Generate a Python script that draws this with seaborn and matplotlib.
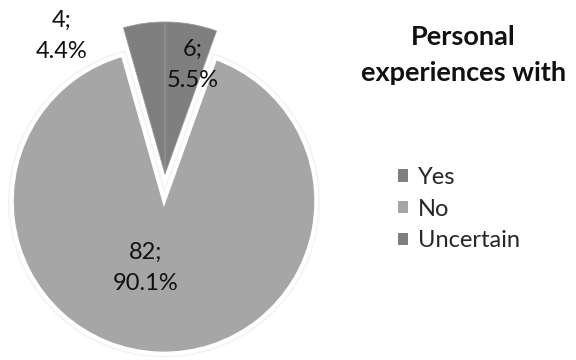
import matplotlib
matplotlib.use("Agg")
import matplotlib.pyplot as plt
import matplotlib.patheffects as pe
from matplotlib.patches import Patch
import seaborn as sns

# Survey answers
categories = ["Yes", "No", "Uncertain"]
counts = [6, 82, 4]
percents = [5.5, 90.1, 4.4]
title_text = "Personal\nexperiences with"

sns.set_theme(style="white")
plt.rcParams["font.family"] = ["Lato", "DejaVu Sans"]

colors = ["#7f7f7f", "#a6a6a6", "#7f7f7f"]

fig = plt.figure(figsize=(5.76, 3.6), dpi=100)
ax = fig.add_axes([0, 0, 1, 1])

wedges, _ = ax.pie(
    percents,
    colors=colors,
    startangle=90,
    counterclock=False,
    explode=[0, 0.18, 0],
    radius=1.0,
    wedgeprops=dict(edgecolor="#9a9a9a", linewidth=0.6),
)
# soft white rim along the separated slice
wedges[1].set_edgecolor("white")
wedges[1].set_linewidth(2.5)
wedges[1].set_path_effects([
    pe.Stroke(linewidth=6, foreground="#f4f4f4"),
    pe.Stroke(linewidth=3.5, foreground="white"),
    pe.Normal(),
])

ax.set_xlim(-1.0855, 2.704)
ax.set_ylim(-1.2237, 1.1447)
ax.axis("off")

label_pos = {"Yes": (0.18, 0.72), "No": (-0.13, -0.62), "Uncertain": (-0.68, 0.91)}
for cat, n, p in zip(categories, counts, percents):
    x, y = label_pos[cat]
    ax.text(x, y, f"{n};\n{p:.1f}%", ha="center", va="center",
            fontsize=17, color="#111111", linespacing=1.6)

fig.text(0.804, 0.847, title_text, ha="center", va="center",
         fontsize=19.5, fontweight="bold", color="#111111", linespacing=1.6)

handles = [Patch(facecolor=c, edgecolor="none") for c in colors]
fig.legend(handles, categories, loc="center left", bbox_to_anchor=(0.691, 0.419),
           frameon=False, fontsize=17, handlelength=0.42, handleheight=0.42,
           handletextpad=0.42, labelspacing=0.45, borderpad=0, borderaxespad=0)

fig.savefig("out.png", dpi=100, facecolor="white")
